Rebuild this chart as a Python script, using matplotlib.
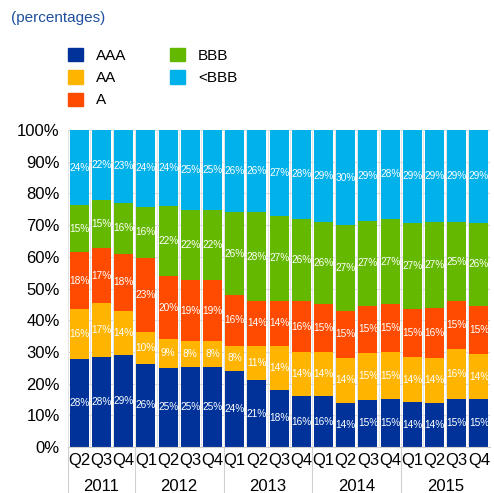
import matplotlib
matplotlib.use("Agg")
import matplotlib.pyplot as plt
from matplotlib.patches import Rectangle
import numpy as np

plt.rcParams['font.family'] = ['Liberation Sans', 'DejaVu Sans']

quarters = ["Q2", "Q3", "Q4",
            "Q1", "Q2", "Q3", "Q4",
            "Q1", "Q2", "Q3", "Q4",
            "Q1", "Q2", "Q3", "Q4",
            "Q1", "Q2", "Q3", "Q4"]
years = ["2011", "2012", "2013", "2014", "2015"]
year_counts = [3, 4, 4, 4, 4]

series_names = ["AAA", "AA", "A", "BBB", "<BBB"]
aaa = [28, 28, 29, 26, 25, 25, 25, 24, 21, 18, 16, 16, 14, 15, 15, 14, 14, 15, 15]
aa = [16, 17, 14, 10, 9, 8, 8, 8, 11, 14, 14, 14, 14, 15, 15, 14, 14, 16, 14]
a = [18, 17, 18, 23, 20, 19, 19, 16, 14, 14, 16, 15, 15, 15, 15, 15, 16, 15, 15]
bbb = [15, 15, 16, 16, 22, 22, 22, 26, 28, 27, 26, 26, 27, 27, 27, 27, 27, 25, 26]
below_bbb = [24, 22, 23, 24, 24, 25, 25, 26, 26, 27, 28, 29, 30, 29, 28, 29, 29, 29, 29]

colors = ["#003299", "#FFB400", "#FF4B00", "#65B800", "#00B1EA"]

data = np.array([aaa, aa, a, bbb, below_bbb], dtype=float)
totals = data.sum(axis=0)
norm = data / totals * 100.0

fig = plt.figure(figsize=(4.94, 4.93), dpi=100)
ax = fig.add_axes([0.138, 0.0933, 0.854, 0.643])

n = len(quarters)
x = np.arange(n)
ax.set_xlim(-0.5, n - 0.5)
ax.set_ylim(0, 100)

# grid
for yv in range(10, 101, 10):
    ax.axhline(yv, color="#d9d9d9", lw=0.8, zorder=0)
for xv in np.arange(-0.5, n, 1.0):
    ax.axvline(xv, color="#e3e3e3", lw=0.8, zorder=0)

bottom = np.zeros(n)
for i, (name, col) in enumerate(zip(series_names, colors)):
    ax.bar(x, norm[i], bottom=bottom, width=0.86, color=col, label=name,
           zorder=2, linewidth=0)
    for j in range(n):
        ax.text(x[j], bottom[j] + norm[i][j] / 2, f"{int(data[i][j])}%",
                ha="center", va="center", color="white", fontsize=7.3, zorder=3)
    bottom += norm[i]

for s in ["top", "right", "left"]:
    ax.spines[s].set_visible(False)
ax.spines["bottom"].set_color("#d0d0d0")

ax.set_yticks(range(0, 101, 10))
ax.set_yticklabels([f"{v}%" for v in range(0, 101, 10)], fontsize=12)
ax.tick_params(axis="y", length=0, pad=6)
ax.set_xticks(x)
ax.set_xticklabels(quarters, fontsize=12)
ax.tick_params(axis="x", length=0, pad=4)

# year labels and separators
trans = ax.get_xaxis_transform()
start = 0
bounds = [-0.5]
for yr, cnt in zip(years, year_counts):
    center = start + (cnt - 1) / 2
    ax.text(center, -0.125, yr, transform=trans, ha="center", va="center", fontsize=12)
    start += cnt
    bounds.append(start - 0.5)
for b in bounds[:-1]:
    ax.plot([b, b], [0, -0.155], transform=trans, color="#d0d0d0", lw=0.8, clip_on=False)

fig.text(0.022, 0.963, "(percentages)", color="#1f4f9e", fontsize=11, ha="left", va="center")

# legend
handles = [Rectangle((0, 0), 1, 1, color=c) for c in colors]
leg = fig.legend(handles, series_names, loc="upper left",
                 bbox_to_anchor=(0.11, 0.93), ncol=2, frameon=False, fontsize=11,
                 handlelength=0.95, handleheight=0.95, columnspacing=2.9,
                 labelspacing=0.48, handletextpad=0.85)

fig.savefig("out.png", dpi=100)
